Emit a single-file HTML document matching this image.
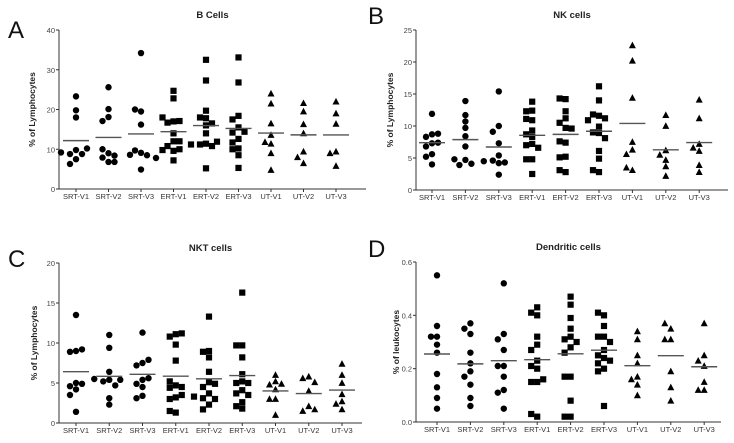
<!DOCTYPE html>
<html><head><meta charset="utf-8"><style>
html,body{margin:0;padding:0;background:#fff;}
svg{display:block;font-family:"Liberation Sans",sans-serif;}
</style></head><body>
<svg id="c" width="734" height="443" viewBox="0 0 734 443"></svg>
<script>
const categories=["SRT-V1","SRT-V2","SRT-V3","ERT-V1","ERT-V2","ERT-V3","UT-V1","UT-V2","UT-V3"];
const bCells=[[23.3,19.8,18,9.8,8.8,8.8,9.2,10.2,7.5,6.3],[25.6,20.1,18.1,17.1,9,7.9,8.4,10,6.8,6.8],[34.2,19.5,20,16.2,9.1,9.7,8.5,8.6,7.8,4.9],[24.7,22.8,17,16.7,17.1,18,14,12,10.8,12,9.6,10,9.8,7.2],[32.5,27.3,19.7,17.8,18,16.5,16,14,11.4,11.2,10.8,11.2,11.9,5.2],[33.1,26.8,18.4,17.5,15.5,14.2,14.4,12.6,11.7,10.2,10,8.5,5.3],[24,21.5,16.5,13.6,11.4,11.8,9,4.8],[21.6,19.5,16.3,14,9.4,8,6.5],[22,19,16.4,9.4,9,5.8]];
const nkCells=[[11.9,8.7,8.3,8.8,7.3,6.8,7.4,5.6,5.2,4.0],[13.9,11.7,10.7,9.7,8.4,6.8,4.7,3.9,4.1,4.8],[15.4,10,9.1,7.3,5.4,4.6,4.2,4.3,4.5,2.4],[13.8,12.4,12.3,10.9,11.1,9.3,8.7,8.3,7.2,7.0,6.6,4.8,4.8,2.5],[14.2,14.3,12.3,11.2,10.5,9.7,9.6,7.4,7.6,5.2,5.1,2.8,3.1],[16.2,14,11.6,11.8,11.2,10.9,9.9,9.0,8.9,8.1,6.1,4.9,2.8,3.1],[22.6,20.2,14.4,7.5,6.3,5.6,3.1,3.5],[11.7,10.0,6.2,5.5,4.7,3.7,2.2],[14.1,11.2,7.2,6.1,6.6,3.9,2.8]];
const nktCells=[[13.5,9.0,8.9,9.2,5.0,4.6,4.2,4.9,3.5,1.4],[11.0,9.4,6.4,5.4,5.2,4.7,5.4,5.5,3.1,2.3],[11.3,7.5,7.2,7.9,5.4,4.9,5.6,4.5,3.4,3.1],[11.1,10.8,11.2,9.8,7.8,4.7,4.4,4.5,5.2,3.2,3.0,3.5,1.3,1.5],[13.3,9.0,8.2,8.9,6.4,5.1,4.5,4.9,3.7,3.1,3.0,3.3,2.3,1.7],[16.3,9.7,9.7,8.2,6.1,5.2,5.0,5.0,4.1,3.7,3.5,2.6,1.8,2.1],[6.0,5.2,4.8,4.9,4.2,3.0,3.0,1.0],[5.8,5.6,5.1,4.0,2.1,1.5,1.7],[7.4,6.0,5.0,3.6,2.7,2.4,1.7]];
const dcCells=[[.55,.36,.32,.32,.29,.26,.18,.13,.09,.05],[.37,.35,.33,.26,.22,.19,.17,.14,.09,.06],[.52,.33,.31,.27,.21,.21,.17,.12,.11,.05],[.43,.40,.41,.32,.29,.27,.23,.21,.20,.15,.15,.16,.02,.03],[.47,.44,.39,.35,.32,.31,.30,.28,.26,.17,.17,.08,.02,.02],[.40,.41,.36,.32,.32,.30,.27,.25,.24,.23,.22,.20,.19,.06],[.34,.31,.25,.22,.17,.16,.14,.10],[.35,.37,.31,.31,.19,.13,.08],[.37,.25,.23,.21,.15,.12,.12]];
const ticksA=[0,10,20,30,40], ticksB=[0,5,10,15,20,25], ticksC=[0,5,10,15,20], ticksD=[0,0.2,0.4,0.6];
const tickLabelsD=["0.0","0.2","0.4","0.6"];

const panels=[
 {id:"a",letter:"A",lx:8,ly:38,title:"B Cells",data:bCells,ticks:ticksA,labels:ticksA.map(String),max:40,x0:59,x1:366,yTop:30,yBot:189,c0:76,step:32.5,ytitle:"% of Lymphocytes",ytx:35},
 {id:"b",letter:"B",lx:368,ly:24,title:"NK cells",data:nkCells,ticks:ticksB,labels:ticksB.map(String),max:25,x0:416,x1:728,yTop:30,yBot:190,c0:432,step:33.4,ytitle:"% of Lymphocytes",ytx:393},
 {id:"c",letter:"C",lx:8,ly:267,title:"NKT cells",data:nktCells,ticks:ticksC,labels:ticksC.map(String),max:20,x0:59,x1:362,yTop:263,yBot:423,c0:76,step:33.25,ytitle:"% of Lymphocytes",ytx:37},
 {id:"d",letter:"D",lx:368,ly:257,title:"Dendritic cells",data:dcCells,ticks:ticksD,labels:tickLabelsD,max:0.6,x0:416,x1:721,yTop:262,yBot:422,c0:437,step:33.4,ytitle:"% of leukocytes",ytx:399}
];
const NS="http://www.w3.org/2000/svg";
const svg=document.getElementById('c');
function mk(tag,attrs,parent){const e=document.createElementNS(NS,tag);for(const k in attrs)e.setAttribute(k,attrs[k]);(parent||svg).appendChild(e);return e;}
function swarm(ys){
  const placed=[];const offs=[];const d=6;
  const cands=[0,-6,6,-11,11,-15,15];
  ys.forEach((y,i)=>{
    for(const o of cands){
      if(placed.every(p=>Math.hypot(p[0]-o,p[1]-y)>=d)){placed.push([o,y]);offs[i]=o;return;}
    }
    placed.push([0,y]);offs[i]=0;
  });
  return offs;
}
panels.forEach(p=>{
  const g=mk('g',{});
  
  
  const yS=v=>p.yBot-(v/p.max)*(p.yBot-p.yTop);
  const xS=i=>p.c0+i*p.step;
  const L=mk('text',{x:p.lx,y:p.ly,'font-size':24,fill:'#111'},g);L.textContent=p.letter;
  
  
  const T=mk('text',{x:(p.x0+p.x1)/2,y:p.yTop-12,'font-size':9.5,'font-weight':'bold','text-anchor':'middle',fill:'#222'},g);T.textContent=p.title;
  
  
  const yt=mk('text',{x:0,y:0,'font-size':8.5,'font-weight':'bold','text-anchor':'middle',fill:'#222',transform:`translate(${p.ytx},${(p.yTop+p.yBot)/2}) rotate(-90)`},g);yt.textContent=p.ytitle;
  
  
  const ya=mk('line',{x1:p.x0,y1:p.yTop,x2:p.x0,y2:p.yBot,stroke:'#333','stroke-width':1},g);
  
  
  const xa=mk('line',{x1:p.x0,y1:p.yBot,x2:p.x1,y2:p.yBot,stroke:'#333','stroke-width':1},g);
  
  
  p.ticks.forEach((t,i)=>{
    const y=yS(t);
    mk('line',{x1:p.x0-3,y1:y,x2:p.x0,y2:y,stroke:'#333'},g);
    const tl=mk('text',{x:p.x0-4,y:y+3,'font-size':7.5,'text-anchor':'end',fill:'#444'},g);tl.textContent=p.labels[i];
    
    
  });
  categories.forEach((c,i)=>{
    const x=xS(i);
    mk('line',{x1:x,y1:p.yBot,x2:x,y2:p.yBot+3,stroke:'#333'},g);
    const xl=mk('text',{x:x,y:p.yBot+10,'font-size':7.5,'text-anchor':'middle',fill:'#333'},g);xl.textContent=c;
    
    
    const vals=p.data[i];
    const ys=vals.map(yS);
    const offs=swarm(ys);
    vals.forEach((v,k)=>{
      const cx=x+offs[k],cy=ys[k];let m;
      if(i<3) m=mk('circle',{cx:cx,cy:cy,r:3.2,fill:'#000'},g);
      else if(i<6) m=mk('rect',{x:cx-3.1,y:cy-3.1,width:6.2,height:6.2,fill:'#000'},g);
      else m=mk('polygon',{points:`${cx},${cy-3.7} ${cx+3.5},${cy+2.9} ${cx-3.5},${cy+2.9}`,fill:'#000'},g);
      
      
    });
    const mean=vals.reduce((a,b)=>a+b,0)/vals.length;
    const ml=mk('line',{x1:x-13,x2:x+13,y1:yS(mean),y2:yS(mean),stroke:'#555','stroke-width':1.4},g);
    
    
  });
});
</script>
</body></html>
